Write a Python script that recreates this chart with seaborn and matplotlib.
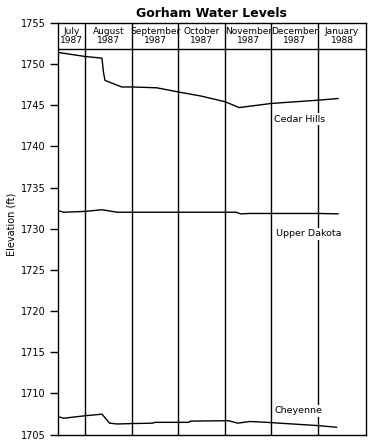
import seaborn as sns
import matplotlib.pyplot as plt
import pandas as pd

# readings taken off the chart (feet above sea level)
cedar_dates = ["1987-07-14", "1987-08-01", "1987-08-12", "1987-08-13", "1987-08-14",
               "1987-08-25", "1987-09-01", "1987-09-17", "1987-10-01", "1987-10-16",
               "1987-11-01", "1987-11-10", "1987-12-01", "1988-01-01", "1988-01-14"]
cedar_levels = [1751.4, 1750.9, 1750.7, 1749.0, 1748.0,
                1747.2, 1747.2, 1747.1, 1746.6, 1746.1,
                1745.4, 1744.7, 1745.2, 1745.6, 1745.8]

dakota_dates = ["1987-07-14", "1987-07-18", "1987-08-01", "1987-08-12", "1987-08-22",
                "1987-11-08", "1987-11-11", "1987-11-17", "1988-01-01", "1988-01-14"]
dakota_levels = [1732.2, 1732.0, 1732.1, 1732.3, 1732.0,
                 1732.0, 1731.8, 1731.85, 1731.85, 1731.8]

cheyenne_dates = ["1987-07-14", "1987-07-18", "1987-08-01", "1987-08-07", "1987-08-12",
                  "1987-08-17", "1987-08-22", "1987-09-01", "1987-09-14", "1987-09-16",
                  "1987-10-08", "1987-10-09", "1987-11-03", "1987-11-09", "1987-11-17",
                  "1987-11-28", "1988-01-01", "1988-01-13"]
cheyenne_levels = [1707.2, 1707.0, 1707.3, 1707.4, 1707.5,
                   1706.4, 1706.3, 1706.35, 1706.4, 1706.5,
                   1706.5, 1706.65, 1706.7, 1706.4, 1706.6,
                   1706.5, 1706.1, 1705.9]

series_names = ["Cedar Hills", "Upper Dakota", "Cheyenne"]
label_spots = [("1987-12-03", 1743.3), ("1987-12-04", 1729.4), ("1987-12-03", 1707.9)]

month_starts = ["1987-08-01", "1987-09-01", "1987-10-01", "1987-11-01",
                "1987-12-01", "1988-01-01"]
month_labels = ["July\n1987", "August\n1987", "September\n1987", "October\n1987",
                "November\n1987", "December\n1987", "January\n1988"]
x_start, x_end = "1987-07-14", "1988-02-01"
y_ticks = list(range(1705, 1756, 5))


def build_frame():
    parts = []
    for name, d, v in zip(series_names,
                          [cedar_dates, dakota_dates, cheyenne_dates],
                          [cedar_levels, dakota_levels, cheyenne_levels]):
        parts.append(pd.DataFrame({"date": pd.to_datetime(d), "level": v, "well": name}))
    return pd.concat(parts, ignore_index=True)


def main():
    sns.set_style("white")
    plt.rcParams["font.family"] = ["DejaVu Sans"]
    plt.rcParams["text.color"] = "black"
    plt.rcParams["axes.labelcolor"] = "black"
    plt.rcParams["ytick.color"] = "black"
    df = build_frame()

    fig = plt.figure(figsize=(3.75, 4.48), dpi=100)
    ax = fig.add_axes([0.1539, 0.0297, 0.8213, 0.9196])

    sns.lineplot(data=df, x="date", y="level", hue="well",
                 palette=["black"] * 3, linewidth=1, legend=False, ax=ax)

    x0, x1 = pd.Timestamp(x_start), pd.Timestamp(x_end)
    edges = [x0] + [pd.Timestamp(m) for m in month_starts] + [x1]
    for m in month_starts:
        ax.axvline(pd.Timestamp(m), color="black", linewidth=1, zorder=1)
    ax.axhline(1751.8, color="black", linewidth=1, zorder=1)

    for a, b, lab in zip(edges[:-1], edges[1:], month_labels):
        ax.text(a + (b - a) / 2, 1753.4, lab, ha="center", va="center",
                fontsize=6.5, linespacing=0.95, color="black")

    for name, (d, y) in zip(series_names, label_spots):
        ax.text(pd.Timestamp(d), y, name, ha="left", va="center", fontsize=6.8,
                color="black",
                bbox=dict(facecolor="white", edgecolor="none", pad=1), zorder=3)

    ax.set_xlim(x0, x1)
    ax.set_ylim(1705, 1755)
    ax.set_yticks(y_ticks)
    ax.set_xticks([])
    ax.tick_params(axis="y", direction="out", length=5.8, width=1, pad=3,
                   labelsize=7, left=True, color="black", labelcolor="black")
    for s in ax.spines.values():
        s.set_color("black")
        s.set_linewidth(1)
    ax.set_xlabel("")
    ax.set_ylabel("Elevation (ft)", fontsize=7, color="black")
    ax.yaxis.set_label_coords(-0.135, 0.51)
    ax.set_title("Gorham Water Levels", fontsize=9, fontweight="bold", pad=4,
                 color="black")

    plt.savefig("out.png", dpi=100)


if __name__ == '__main__':
    main()
